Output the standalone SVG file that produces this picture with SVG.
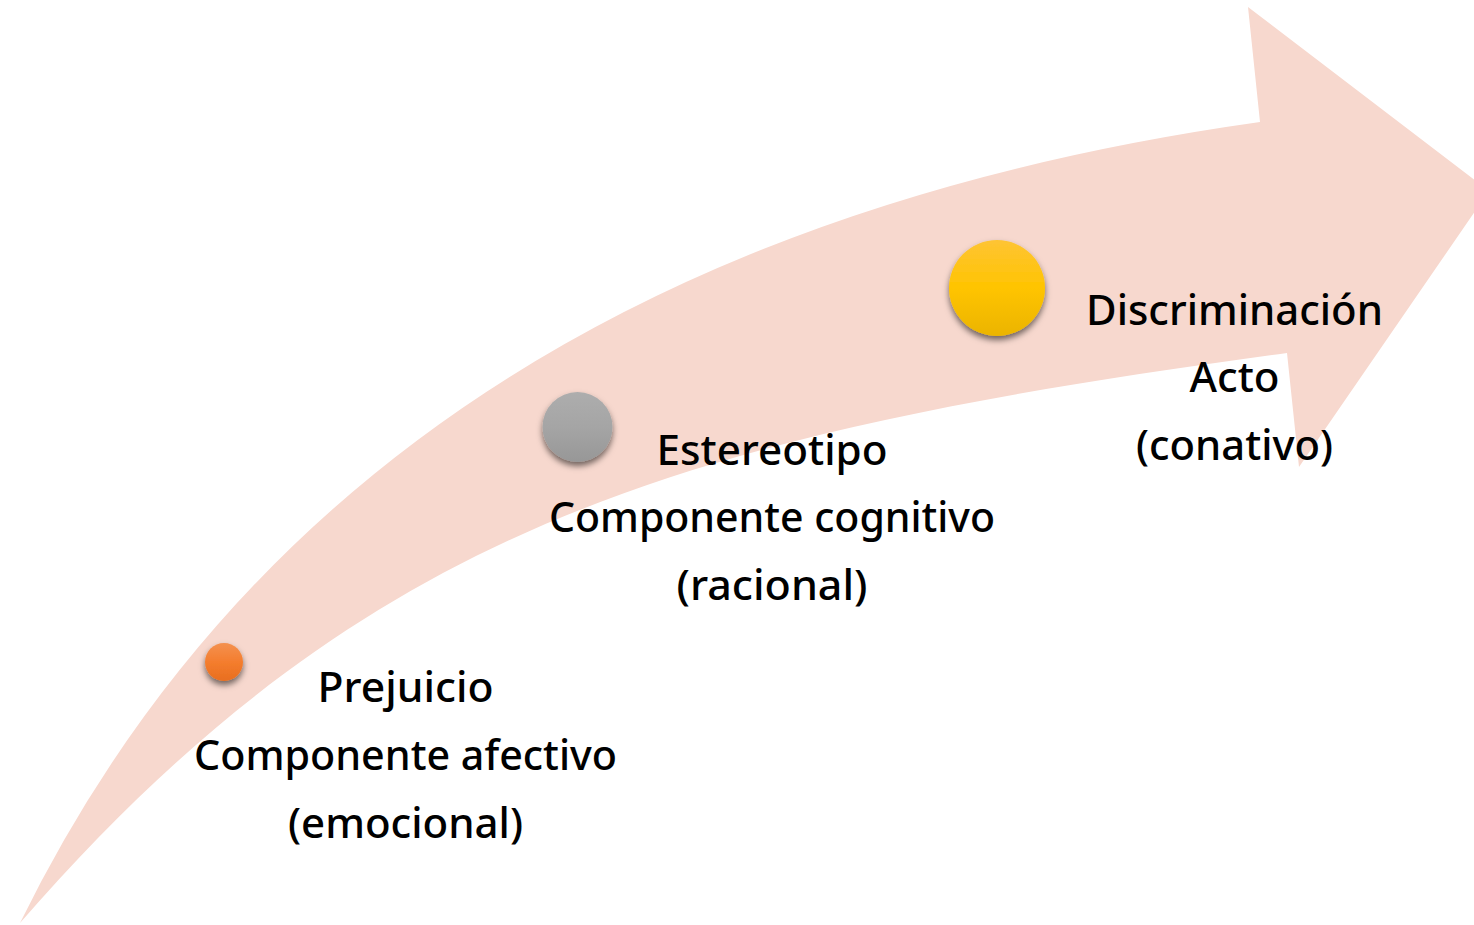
<svg xmlns="http://www.w3.org/2000/svg" width="1474" height="925" viewBox="0 0 1474 925">
<defs>
<style>
.t{font-family:"Noto Sans","DejaVu Sans",sans-serif;font-size:42px;font-weight:500;fill:#000;text-anchor:middle}
</style>
<linearGradient id="gO" x1="0" y1="0" x2="0" y2="1"><stop offset="0" stop-color="#F4914F"/><stop offset="0.5" stop-color="#F47D2E"/><stop offset="1" stop-color="#E86E1F"/></linearGradient>
<linearGradient id="gG" x1="0" y1="0" x2="0" y2="1"><stop offset="0" stop-color="#ADADAD"/><stop offset="0.5" stop-color="#A5A5A5"/><stop offset="1" stop-color="#979797"/></linearGradient>
<linearGradient id="gY" x1="0" y1="0" x2="0" y2="1"><stop offset="0" stop-color="#FEC434"/><stop offset="0.5" stop-color="#FFC400"/><stop offset="1" stop-color="#EBB400"/></linearGradient>
<filter id="sh" x="-50%" y="-50%" width="200%" height="200%"><feGaussianBlur in="SourceAlpha" stdDeviation="3"/><feOffset dx="0" dy="4" result="b"/><feFlood flood-color="#000" flood-opacity="0.55"/><feComposite in2="b" operator="in"/><feMerge><feMergeNode/><feMergeNode in="SourceGraphic"/></feMerge></filter>
</defs>
<rect width="1474" height="925" fill="#fff"/>
<g id="arrow">
<path d="M20,923 Q350,250 1260,122 L1248,7 L1489,191 L1299,467 L1287,353 C687,434 368,523 20,923 Z" fill="#F7D8CE"/>
</g>
<g id="connectors"></g>
<g id="node-prejuicio">
<circle cx="224" cy="662" r="19" fill="url(#gO)" filter="url(#sh)"/>
<text class="t" x="405.5" y="702" textLength="176" lengthAdjust="spacingAndGlyphs">Prejuicio</text>
<text class="t" x="405.5" y="770" textLength="423" lengthAdjust="spacingAndGlyphs">Componente afectivo</text>
<text class="t" x="405.5" y="838" textLength="235" lengthAdjust="spacingAndGlyphs">(emocional)</text>
</g>
<g id="node-estereotipo">
<circle cx="577.5" cy="427" r="35" fill="url(#gG)" filter="url(#sh)"/>
<text class="t" x="772" y="465" textLength="231" lengthAdjust="spacingAndGlyphs">Estereotipo</text>
<text class="t" x="772" y="532" textLength="446" lengthAdjust="spacingAndGlyphs">Componente cognitivo</text>
<text class="t" x="772" y="600" textLength="191" lengthAdjust="spacingAndGlyphs">(racional)</text>
</g>
<g id="node-discriminacion">
<circle cx="997" cy="288" r="48" fill="url(#gY)" filter="url(#sh)"/>
<text class="t" x="1234.5" y="325" textLength="297" lengthAdjust="spacingAndGlyphs">Discriminación</text>
<text class="t" x="1234.5" y="392" textLength="90" lengthAdjust="spacingAndGlyphs">Acto</text>
<text class="t" x="1234.5" y="460" textLength="197" lengthAdjust="spacingAndGlyphs">(conativo)</text>
</g>
</svg>
